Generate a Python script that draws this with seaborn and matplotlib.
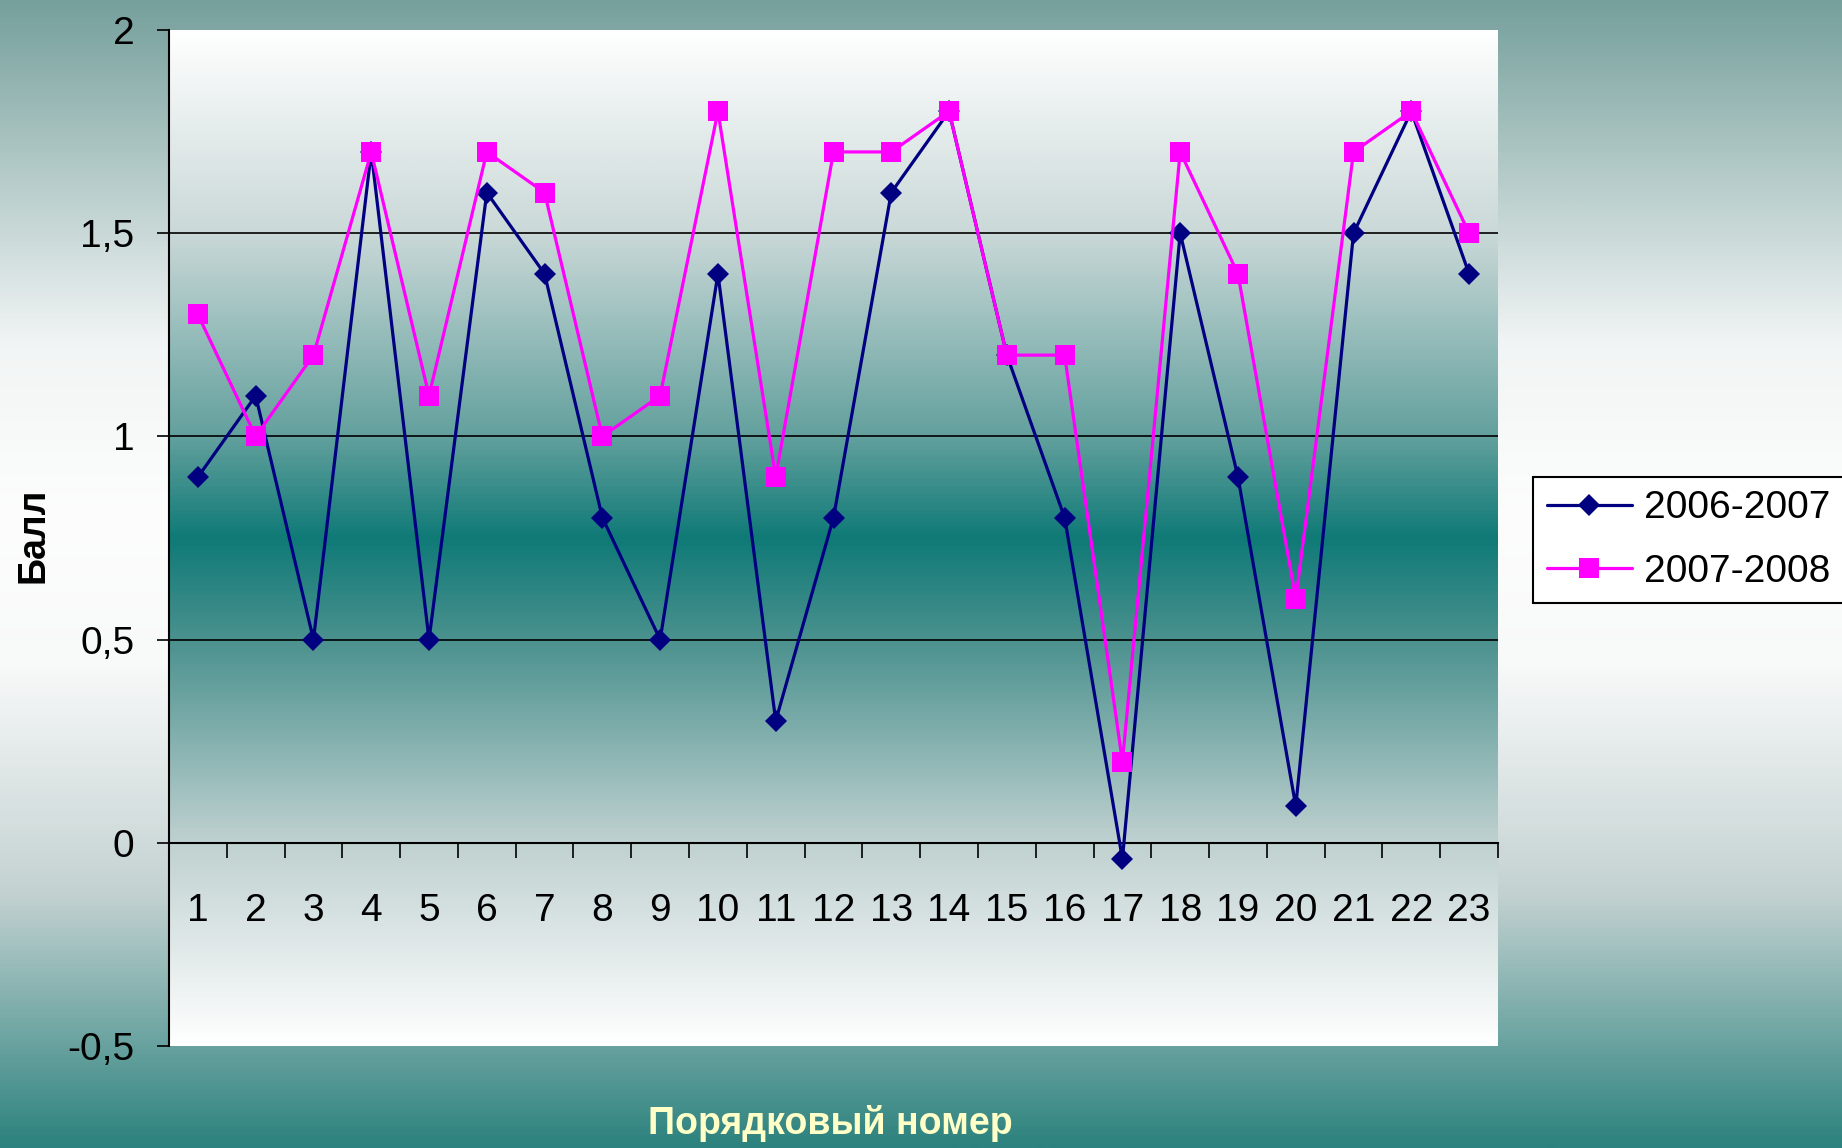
import numpy as np
import pandas as pd
import matplotlib
matplotlib.use("Agg")
import matplotlib.pyplot as plt
from matplotlib.colors import LinearSegmentedColormap
from matplotlib.ticker import FuncFormatter, FixedLocator
from matplotlib.lines import Line2D
import seaborn as sns
from matplotlib import font_manager

# ---------------- data ----------------
categories = [str(i) for i in range(1, 24)]
series_names = ["2006-2007", "2007-2008"]
values_2006_2007 = [0.9, 1.1, 0.5, 1.7, 0.5, 1.6, 1.4, 0.8, 0.5, 1.4, 0.3, 0.8,
                    1.6, 1.8, 1.2, 0.8, -0.04, 1.5, 0.9, 0.09, 1.5, 1.8, 1.4]
values_2007_2008 = [1.3, 1.0, 1.2, 1.7, 1.1, 1.7, 1.6, 1.0, 1.1, 1.8, 0.9, 1.7,
                    1.7, 1.8, 1.2, 1.2, 0.2, 1.7, 1.4, 0.6, 1.7, 1.8, 1.5]
y_ticks = [-0.5, 0, 0.5, 1, 1.5, 2]
x_label = "Порядковый номер"
y_label = "Балл"

sns.set_theme(style="white")
names = {f.name for f in font_manager.fontManager.ttflist}
narrow = "Liberation Sans Narrow" if "Liberation Sans Narrow" in names else "Liberation Sans"
plt.rcParams["font.family"] = [narrow, "DejaVu Sans"]
plt.rcParams["text.color"] = "black"
plt.rcParams["xtick.color"] = "black"
plt.rcParams["ytick.color"] = "black"

W, H, DPI = 1842, 1148, 100
fig = plt.figure(figsize=(W / DPI, H / DPI), dpi=DPI)

# figure background gradient
bg = fig.add_axes([0, 0, 1, 1], zorder=-10)
bg_cmap = LinearSegmentedColormap.from_list(
    "bg", [(0.0, "#76a09c"), (0.30, "#f2f5f5"), (0.45, "#fdfdfd"),
           (0.58, "#f8f9f9"), (0.78, "#c3d2d1"), (1.0, "#2c827e")])
grad = np.linspace(0, 1, 512).reshape(-1, 1)
bg.imshow(grad, aspect="auto", cmap=bg_cmap, extent=(0, 1, 0, 1), origin="upper")
bg.set_axis_off()

ax = fig.add_axes([169 / W, (H - 1046) / H, (1498 - 169) / W, (1046 - 30) / H])
ax.set_facecolor("none")

pos = np.arange(len(categories))
ax.set_xlim(-0.5, len(categories) - 0.5)
ax.set_ylim(y_ticks[0], y_ticks[-1])

# plot-area gradient (white - teal - white)
pa_cmap = LinearSegmentedColormap.from_list(
    "pa", [(0.0, "#ffffff"), (0.2, "#c9d8d7"), (0.4, "#62a09d"), (0.5, "#0f7a77"),
           (0.6, "#4a918e"), (0.8, "#bfd1d0"), (1.0, "#ffffff")])
ax.imshow(grad, aspect="auto", cmap=pa_cmap,
          extent=(-0.5, len(categories) - 0.5, y_ticks[0], y_ticks[-1]),
          origin="upper", zorder=0)

df = pd.DataFrame({
    "pos": np.concatenate([pos, pos]),
    "value": values_2006_2007 + values_2007_2008,
    "series": [series_names[0]] * len(pos) + [series_names[1]] * len(pos),
})

colors = {series_names[0]: "#000080", series_names[1]: "#ff00ff"}
markers = {series_names[0]: "D", series_names[1]: "s"}
msizes = {series_names[0]: 11.5, series_names[1]: 14}

for name in series_names:
    sub = df[df["series"] == name]
    sns.lineplot(data=sub, x="pos", y="value", ax=ax, color=colors[name],
                 marker=markers[name], markersize=msizes[name],
                 markeredgecolor=colors[name], markeredgewidth=0,
                 linewidth=2.3, zorder=3, legend=False)

# axes styling
for s in ["top", "right"]:
    ax.spines[s].set_visible(False)
ax.spines["left"].set_color("black")
ax.spines["left"].set_linewidth(1.5)
ax.spines["bottom"].set_position(("data", 0))
ax.spines["bottom"].set_color("black")
ax.spines["bottom"].set_linewidth(1.5)
ax.spines["bottom"].set_zorder(2)

ax.set_yticks(y_ticks)
ax.yaxis.set_major_formatter(FuncFormatter(lambda v, p: f"{v:g}".replace(".", ",")))
ax.tick_params(axis="y", which="major", direction="out", length=9, width=1.2,
               color="black", labelcolor="black", pad=16, labelsize=28, left=True)
ax.yaxis.grid(True, color="black", linewidth=1.2)
for val, gl in zip(y_ticks, ax.get_ygridlines()):
    if val in (y_ticks[0], 0, y_ticks[-1]):
        gl.set_visible(False)

ax.set_xticks(pos)
ax.set_xticklabels(categories)
ax.xaxis.set_minor_locator(FixedLocator(np.arange(-0.5, len(categories), 1.0)))
ax.tick_params(axis="x", which="major", length=0, pad=36, labelsize=28,
               labelcolor="black", bottom=True)
ax.tick_params(axis="x", which="minor", direction="out", length=11, width=1.2,
               color="black", bottom=True)
ax.set_xlabel("")
ax.set_ylabel("")

fig.text(33 / W, 1 - 535 / H, y_label, rotation=90, ha="center", va="center",
         fontsize=27, fontweight="bold", color="black", family=["Liberation Sans", "DejaVu Sans"])
fig.text(830 / W, 1 - 1124 / H, x_label, ha="center", va="center",
         fontsize=27, fontweight="bold", color="#ffffc8", family=["Liberation Sans", "DejaVu Sans"])

handles = [Line2D([0], [0], color=colors[n], marker=markers[n], markersize=msizes[n],
                  markeredgewidth=0, linewidth=2.3) for n in series_names]
leg = fig.legend(handles, series_names, loc="center left",
                 bbox_to_anchor=(1533 / W, 1 - 540 / H), bbox_transform=fig.transFigure,
                 fontsize=28, frameon=True, fancybox=False, framealpha=1,
                 edgecolor="black", facecolor="white", handlelength=2.2,
                 handletextpad=0.3, labelspacing=0.7, borderpad=0.35, borderaxespad=0)
leg.get_frame().set_linewidth(1.5)
for t in leg.get_texts():
    t.set_color("black")

fig.savefig("out.png", dpi=DPI)
